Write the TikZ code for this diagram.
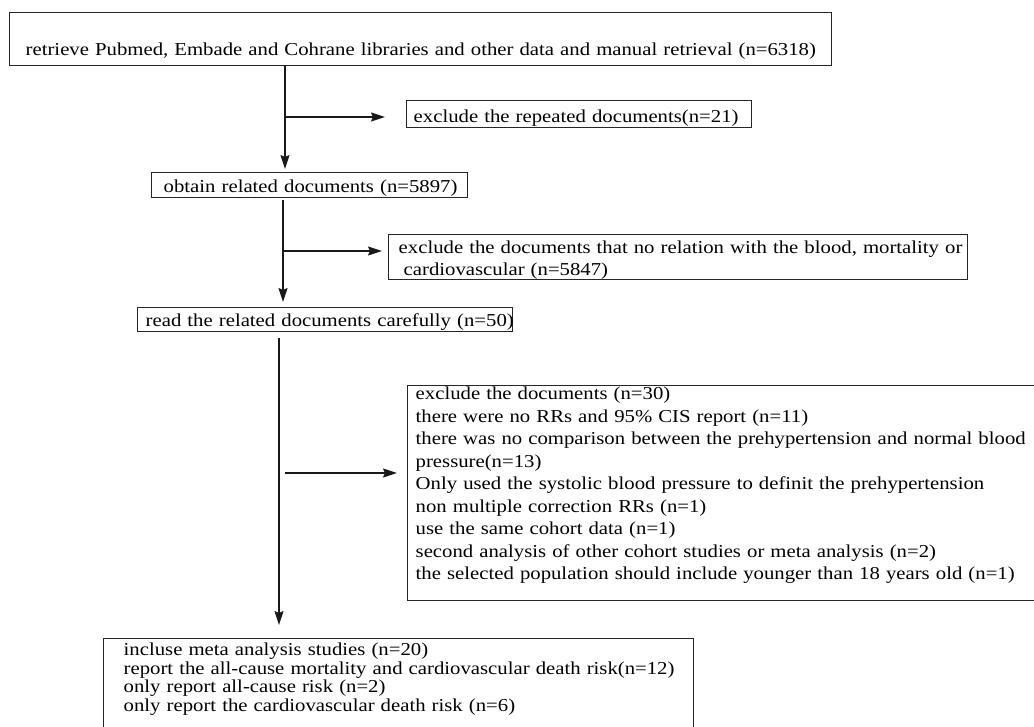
\documentclass[tikz,border=0pt]{standalone}
\usepackage{fontspec}
\setmainfont{Liberation Serif}[FakeStretch=1.14]
\usetikzlibrary{arrows.meta}
\begin{document}
\begin{tikzpicture}[x=1pt,y=-1pt,
  frame/.style={draw=black!85, line width=1.4pt, anchor=north west, inner ysep=0pt, align=left, font=\fontsize{18.2}{22}\selectfont},
  conn/.style={draw=black!90, line width=1.4pt},
  arr/.style={conn, -{Stealth[length=14pt,width=9pt,inset=2pt]}}]
\useasboundingbox (0,0) rectangle (1034,727);
\clip (0,0) rectangle (1034,727);
\fill[white] (0,0) rectangle (1034,727);

\node[frame, inner xsep=16pt, text width=790pt, text height=43pt, text depth=10pt] (top) at (9,12)
  {\mbox{retrieve Pubmed, Embade and Cohrane libraries and other data and manual retrieval (n=6318)}};
\node[frame, inner xsep=7pt, text width=331pt, text height=22pt, text depth=5pt] (rep) at (406,100)
  {\mbox{exclude the repeated documents(n=21)}};
\node[frame, inner xsep=12pt, text width=292pt, text height=20pt, text depth=5pt] (obt) at (151,172)
  {\mbox{obtain related documents (n=5897)}};
\node[frame, inner xsep=10pt, text width=559pt, text height=19pt, text depth=26pt] (ex2) at (388,234)
  {\mbox{exclude the documents that no relation with the blood, mortality or}\\\mbox{}\hspace*{5pt}cardiovascular (n=5847)};
\node[frame, inner xsep=8pt, text width=359pt, text height=19pt, text depth=5pt] (read) at (137,307)
  {\mbox{read the related documents carefully (n=50)}};
\node[frame, inner xsep=8pt, text width=622pt, text height=14pt, text depth=201pt, font=\fontsize{18.2}{22.5}\selectfont] (ex3) at (407,385)
  {exclude the documents (n=30)\\
   there were no RRs and 95\% CIS report (n=11)\\
   \mbox{there was no comparison between the prehypertension and normal blood}\\
   pressure(n=13)\\
   Only used the systolic blood pressure to definit the prehypertension\\
   non multiple correction RRs (n=1)\\
   use the same cohort data (n=1)\\
   second analysis of other cohort studies or meta analysis (n=2)\\
   \mbox{the selected population should include younger than 18 years old (n=1)}};
\node[frame, inner xsep=20pt, text width=550pt, text height=17pt, text depth=85pt, font=\fontsize{18.2}{18.5}\selectfont] (fin) at (103,638)
  {incluse meta analysis studies (n=20)\\
   \mbox{report the all-cause mortality and cardiovascular death risk(n=12)}\\
   only report all-cause risk (n=2)\\
   only report the cardiovascular death risk (n=6)};

\coordinate (j1) at (285,117);
\coordinate (j2) at (283,251);
\coordinate (j3) at (279,473);
\draw[conn] (top.south -| j1) -- (j1);
\draw[arr, shorten >=3pt] (j1) -- (obt.north -| j1);
\draw[arr, shorten >=21pt] (j1) -- (rep.west |- j1);
\draw[conn, shorten <=2pt] (obt.south -| j2) -- (j2);
\draw[arr, shorten >=5pt] (j2) -- (read.north -| j2);
\draw[arr, shorten >=6pt] (j2) -- (ex2.west |- j2);
\draw[arr, shorten <=6pt, shorten >=13pt] (read.south -| j3) -- (fin.north -| j3);
\draw[arr, shorten <=6pt, shorten >=10pt] (j3) -- (ex3.west |- j3);
\end{tikzpicture}
\end{document}
